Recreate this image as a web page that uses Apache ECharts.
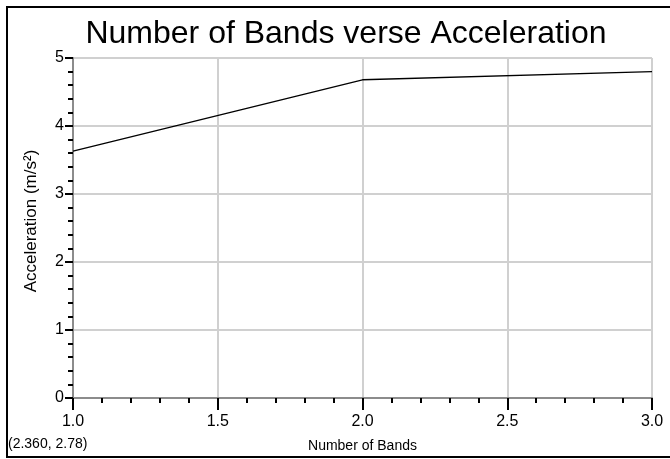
<!DOCTYPE html>
<html>
<head>
<meta charset="utf-8">
<script src="https://cdn.jsdelivr.net/npm/echarts@6/dist/echarts.min.js"></script>
<style>
html,body{margin:0;padding:0;background:#fff;}
#chart{width:670px;height:459px;}
</style>
</head>
<body>
<div id="chart"></div>
<script>
// Data
var bands = [1, 2, 3];
var acceleration = [3.63, 4.68, 4.80];
var titleText = 'Number of Bands verse Acceleration';
var xName = 'Number of Bands';
var yName = 'Acceleration (m/s\u00B2)';
var cursorText = '(2.360, 2.78)';

var FONT = '"Liberation Sans", Arial, sans-serif';
var chart = echarts.init(document.getElementById('chart'), null, {renderer: 'canvas'});

var points = bands.map(function (b, i) { return [b, acceleration[i]]; });

chart.setOption({
  animation: false,
  backgroundColor: '#ffffff',
  title: {
    text: titleText,
    left: 341,
    top: 13,
    textAlign: 'center',
    textStyle: {fontFamily: FONT, fontSize: 32, fontWeight: 'normal', color: '#000'}
  },
  grid: {left: 73, right: 18, top: 58, bottom: 61},
  xAxis: {
    type: 'value',
    min: 1, max: 3, interval: 0.5,
    name: xName,
    nameLocation: 'middle',
    nameGap: 41,
    nameTextStyle: {fontFamily: FONT, fontSize: 14, color: '#000'},
    axisLine: {show: true, lineStyle: {color: '#8c8c8c', width: 2}},
    axisTick: {show: true, length: 12, lineStyle: {color: '#000', width: 2}},
    minorTick: {show: true, splitNumber: 5, length: 5, lineStyle: {color: '#000', width: 2}},
    axisLabel: {fontFamily: FONT, fontSize: 16, color: '#000', margin: 16,
      formatter: function (v) { return v.toFixed(1); }},
    splitLine: {show: true, lineStyle: {color: '#d0d0d0', width: 2}}
  },
  yAxis: {
    type: 'value',
    min: 0, max: 5, interval: 1,
    name: yName,
    nameLocation: 'middle',
    nameGap: 33,
    nameTextStyle: {fontFamily: FONT, fontSize: 17, color: '#000', padding: [0, 0, 0, 14]},
    axisLine: {show: true, lineStyle: {color: '#8c8c8c', width: 2}},
    axisTick: {show: true, length: 8, lineStyle: {color: '#000', width: 2}},
    minorTick: {show: true, splitNumber: 5, length: 5, lineStyle: {color: '#000', width: 2}},
    axisLabel: {fontFamily: FONT, fontSize: 16, color: '#000', margin: 9},
    splitLine: {show: true, lineStyle: {color: '#d0d0d0', width: 2}}
  },
  series: [{
    type: 'line',
    data: points,
    symbol: 'none',
    lineStyle: {color: '#000', width: 1.3},
    z: 3
  }],
  graphic: [
    {type: 'rect', shape: {x: 7, y: 7, width: 720, height: 450}, style: {fill: 'none', stroke: '#000', lineWidth: 2}, z: 100},
    {type: 'text', left: 8, top: 437, style: {text: cursorText, font: '14px ' + FONT, fill: '#000'}, z: 100}
  ]
});
</script>
</body>
</html>
